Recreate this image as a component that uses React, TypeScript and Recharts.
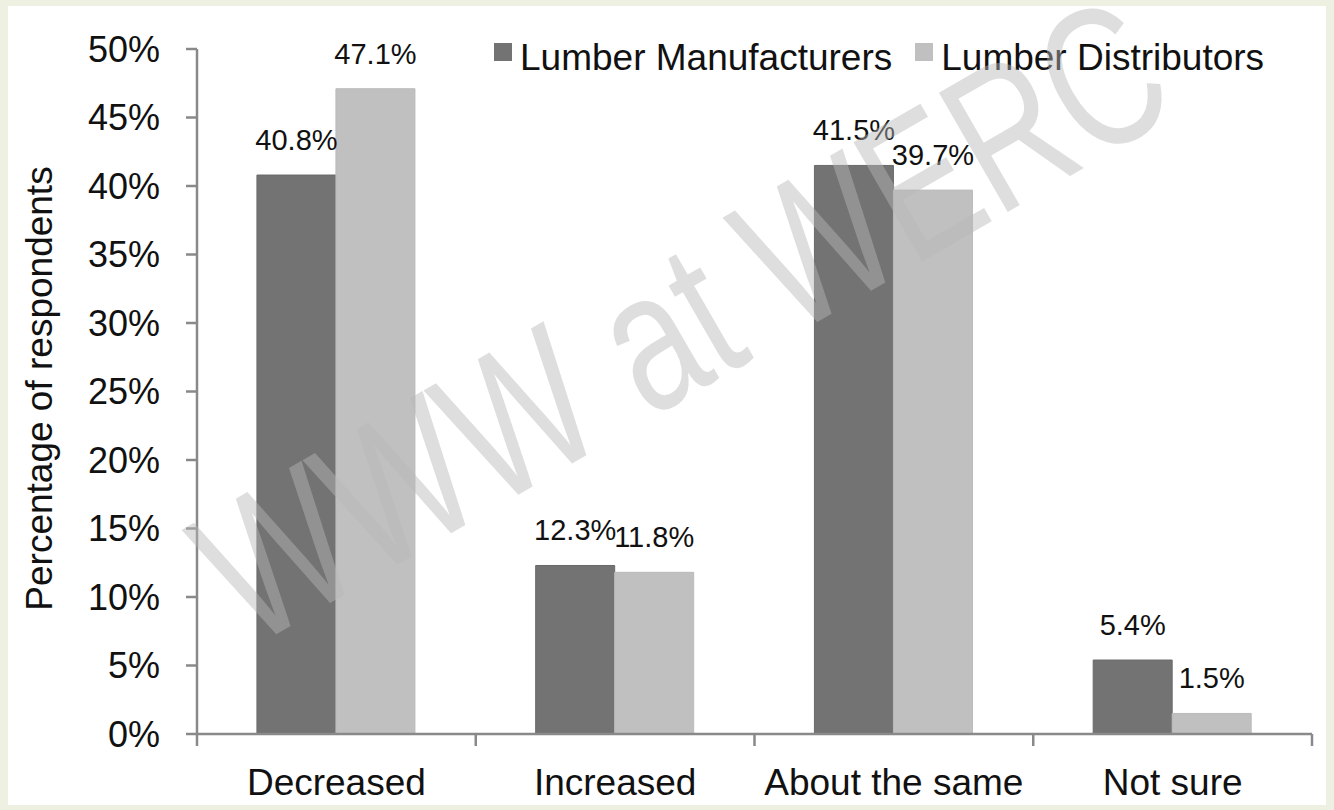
import {
  Bar,
  BarChart,
  LabelList,
  Legend,
  XAxis,
  YAxis,
} from "recharts";

const categories = ["Decreased", "Increased", "About the same", "Not sure"];
const manufacturers = [40.8, 12.3, 41.5, 5.4];
const distributors = [47.1, 11.8, 39.7, 1.5];
const yTicks = [0, 5, 10, 15, 20, 25, 30, 35, 40, 45, 50];

const seriesNames = ["Lumber Manufacturers", "Lumber Distributors"];
const DARK = "#737373";
const LIGHT = "#c0c0c0";
const AXIS = "#898989";
const FONT = "'Liberation Sans', Arial, sans-serif";

const CHART_W = 1334;
const CHART_H = 810;
const MARGIN = { top: 49, right: 22, bottom: 0, left: 0 };
const Y_AXIS_W = 197;
const X_LABEL_GAP = 35;
const EDGE_TICK = 12;
const BAND = (CHART_W - Y_AXIS_W - MARGIN.right) / categories.length;

const data = categories.map((name, i) => ({
  name,
  manufacturers: manufacturers[i],
  distributors: distributors[i],
}));

const pct = (v: number) => `${v.toFixed(1)}%`;

// category label plus tick marks on the band edges
const CategoryTick = (props: any) => {
  const { x, y, payload, index } = props;
  const axisY = y - X_LABEL_GAP;
  const edges = [x - BAND / 2];
  if (index === categories.length - 1) edges.push(x + BAND / 2);
  return (
    <g>
      {edges.map((ex) => (
        <line
          key={ex}
          x1={ex}
          x2={ex}
          y1={axisY}
          y2={axisY + EDGE_TICK}
          stroke={AXIS}
          strokeWidth={2.5}
        />
      ))}
      <text
        x={x}
        y={y}
        dy="0.71em"
        textAnchor="middle"
        fontSize={37}
        fontFamily={FONT}
        fill="#111"
      >
        {payload.value}
      </text>
    </g>
  );
};

const LegendBox = () => (
  <div
    style={{
      display: "flex",
      alignItems: "flex-start",
      fontFamily: FONT,
      fontSize: 37,
      lineHeight: "44px",
      color: "#111",
      whiteSpace: "nowrap",
    }}
  >
    {[DARK, LIGHT].map((c, i) => (
      <div key={i} style={{ display: "flex", marginLeft: i ? 23 : 0 }}>
        <span
          style={{
            width: 18,
            height: 18,
            background: c,
            marginTop: 7,
            marginRight: 8,
          }}
        />
        <span>{seriesNames[i]}</span>
      </div>
    ))}
  </div>
);

const YTitle = (props: any) => {
  const vb = props.viewBox || { y: 49, height: 685 };
  const cy = vb.y + vb.height / 2 - 3;
  return (
    <text
      x={52}
      y={cy}
      transform={`rotate(-90, 52, ${cy})`}
      textAnchor="middle"
      fontSize={37}
      fontFamily={FONT}
      fill="#111"
    >
      Percentage of respondents
    </text>
  );
};

const App = () => {
  return (
    <div
      style={{
        position: "fixed",
        left: 0,
        top: 0,
        width: CHART_W,
        height: CHART_H,
        background: "#eef1e1",
        overflow: "hidden",
      }}
    >
      <div
        style={{
          position: "absolute",
          left: 8,
          top: 6,
          width: 1318,
          height: 799,
          background: "#ffffff",
        }}
      />
      <div style={{ position: "absolute", left: 0, top: 0 }}>
        <BarChart
          width={CHART_W}
          height={CHART_H}
          data={data}
          margin={MARGIN}
          barCategoryGap="21.5%"
          barGap={0}
        >
          <XAxis
            dataKey="name"
            height={76}
            axisLine={{ stroke: AXIS, strokeWidth: 2.5 }}
            tickLine={false}
            tickSize={0}
            tickMargin={X_LABEL_GAP}
            interval={0}
            tick={<CategoryTick />}
          />
          <YAxis
            width={Y_AXIS_W}
            domain={[0, 50]}
            ticks={yTicks}
            interval={0}
            tickFormatter={(v: number) => `${v}%`}
            tickSize={11}
            tickMargin={26}
            tick={{ fontSize: 36, fontFamily: FONT, fill: "#111" }}
            tickLine={{ stroke: AXIS, strokeWidth: 2.5 }}
            axisLine={{ stroke: AXIS, strokeWidth: 2.5 }}
            label={<YTitle />}
          />
          {/* middle alignment keeps the legend from pushing the plot down */}
          <Legend
            layout="horizontal"
            verticalAlign="middle"
            content={<LegendBox />}
            wrapperStyle={{ top: 36, left: 494, width: "auto" }}
          />
          <Bar
            dataKey="manufacturers"
            name={seriesNames[0]}
            fill={DARK}
            stroke="#6a6a6a"
            strokeWidth={1}
            isAnimationActive={false}
          >
            <LabelList
              dataKey="manufacturers"
              position="top"
              offset={25}
              formatter={(v: any) => pct(Number(v))}
              style={{ fontSize: 29, fontFamily: FONT, fill: "#111" }}
            />
          </Bar>
          <Bar
            dataKey="distributors"
            name={seriesNames[1]}
            fill={LIGHT}
            stroke="#bababa"
            strokeWidth={1}
            isAnimationActive={false}
          >
            <LabelList
              dataKey="distributors"
              position="top"
              offset={25}
              formatter={(v: any) => pct(Number(v))}
              style={{ fontSize: 29, fontFamily: FONT, fill: "#111" }}
            />
          </Bar>
        </BarChart>
      </div>
      {/* translucent site watermark laid over the plot */}
      <svg
        width={CHART_W}
        height={CHART_H}
        style={{ position: "absolute", left: 0, top: 0, pointerEvents: "none" }}
      >
        <text
          x={0}
          y={72}
          textAnchor="middle"
          fontSize={200}
          fontFamily={FONT}
          fill="#b7b7b7"
          fillOpacity={0.46}
          transform="translate(680, 318) rotate(-30) scale(0.74, 1)"
        >
          WWW at WERC
        </text>
      </svg>
    </div>
  );
};

export default App;
